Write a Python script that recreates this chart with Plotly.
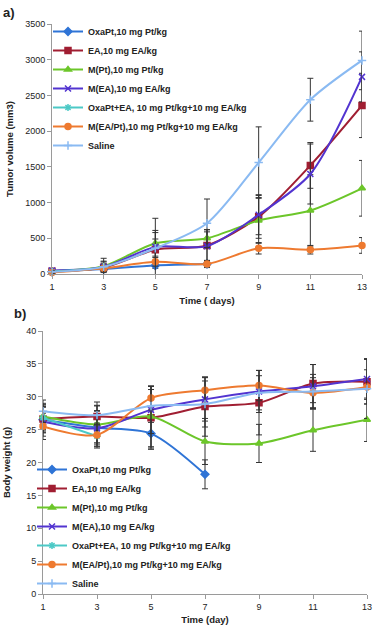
import plotly.graph_objects as go

# days
days = [1, 3, 5, 7, 9, 11, 13]

names = ["OxaPt,10 mg Pt/kg", "EA,10 mg EA/kg", "M(Pt),10 mg Pt/kg", "M(EA),10 mg EA/kg",
         "OxaPt+EA, 10 mg Pt/kg+10 mg EA/kg", "M(EA/Pt),10 mg Pt/kg+10 mg EA/kg", "Saline"]
colors = ['#2F74D6', '#A01E32', '#6CC62A', '#5234D0', '#4CC9C6', '#EE7A30', '#8ABAF2']
symbols = ['diamond', 'square', 'triangle-up', 'x-thin-open', 'asterisk-open', 'circle', 'cross-thin-open']

# a) tumor volume (mm3)
vol = [
    [30, 70, 120, 140],
    [40, 90, 340, 400, 800, 1520, 2360],
    [40, 110, 430, 500, 750, 890, 1200],
    [50, 100, 380, 390, 830, 1400, 2760],
    [35, 80],
    [20, 80, 170, 140, 360, 340, 400],
    [30, 100, 360, 710, 1560, 2440, 2990],
]
vol_err = [
    [15, 30, 40, 50],
    [20, 60, 150, 220, 300, 320, 450],
    [20, 60, 180, 120, 320, 500, 390],
    [20, 80, 200, 200, 280, 420, 350],
    [15, 40],
    [10, 40, 60, 40, 80, 60, 110],
    [20, 120, 420, 340, 500, 300, 410],
]

# b) body weight (g)
bw = [
    [26.5, 25.3, 24.4, 18.2],
    [26.6, 27.0, 26.8, 28.5, 29.1, 32.0, 32.3],
    [27.0, 25.8, 27.0, 23.2, 22.9, 24.9, 26.5],
    [26.2, 25.2, 28.0, 29.6, 30.8, 31.6, 32.7],
    [26.8, 24.0],
    [25.5, 24.2, 29.8, 31.0, 31.7, 30.6, 31.5],
    [27.8, 27.2, 28.6, 28.9, 30.6, 30.8, 31.2],
]
bw_err = [
    [2.0, 2.5, 2.2, 2.2],
    [2.0, 2.2, 4.8, 4.5, 4.9, 2.9, 3.4],
    [2.0, 2.8, 4.6, 3.5, 2.9, 3.2, 3.3],
    [2.2, 2.7, 3.6, 3.3, 3.2, 3.3, 3.1],
    [2.0, 1.8],
    [2.0, 1.8, 1.8, 2.0, 2.3, 2.3, 2.6],
    [1.7, 1.5, 2.5, 3.5, 2.6, 2.6, 4.5],
]

fig = go.Figure()

for i, name in enumerate(names):
    for vals, errs, xa, ya, lg in [(vol[i], vol_err[i], 'x', 'y', 'legend'),
                                   (bw[i], bw_err[i], 'x2', 'y2', 'legend2')]:
        fig.add_trace(go.Scatter(
            x=days[:len(vals)], y=vals, name=name, mode='lines+markers',
            xaxis=xa, yaxis=ya, legend=lg,
            line=dict(color=colors[i], width=2, shape='spline', smoothing=0.8),
            marker=dict(symbol=symbols[i], size=6, color=colors[i],
                        line=dict(color=colors[i], width=1.5)),
            error_y=dict(type='data', array=errs, color='#333333', thickness=1, width=3),
            cliponaxis=False,
        ))

axis_common = dict(showgrid=False, zeroline=False, showline=True, linecolor='#9a9a9a',
                   linewidth=1, ticks='outside', ticklen=4, tickcolor='#9a9a9a',
                   tickfont=dict(size=9, color='#222222', family='Liberation Sans'),
                   automargin=False)

fig.update_layout(
    width=373, height=625,
    margin=dict(l=0, r=0, t=0, b=0),
    paper_bgcolor='white', plot_bgcolor='white',
    font=dict(family='Liberation Sans', color='#222222'),
    xaxis=dict(domain=[52/373, 362/373], anchor='y', range=[1, 13], tickvals=days,
               title=dict(text='<b>Time ( days)</b>', font=dict(size=9.5), standoff=6), **axis_common),
    yaxis=dict(domain=[1-274/625, 1-24/625], anchor='x', range=[0, 3500], dtick=500,
               title=dict(text='<b>Tumor volume (mm3)</b>', font=dict(size=9.5), standoff=9), **axis_common),
    xaxis2=dict(domain=[43/373, 367/373], anchor='y2', range=[1, 13], tickvals=days,
                title=dict(text='<b>Time (day)</b>', font=dict(size=9.5), standoff=6), **axis_common),
    yaxis2=dict(domain=[1-594/625, 1-331/625], anchor='x2', range=[0, 40], dtick=5,
                title=dict(text='<b>Body weight (g)</b>', font=dict(size=9.5), standoff=13), **axis_common),
    legend=dict(x=48/373, y=1-17/625, xanchor='left', yanchor='top', bgcolor='rgba(0,0,0,0)',
                font=dict(size=9, weight='bold'), tracegroupgap=0, itemwidth=30),
    legend2=dict(x=32/373, y=1-455/625, xanchor='left', yanchor='top', bgcolor='rgba(0,0,0,0)',
                 font=dict(size=9, weight='bold'), tracegroupgap=0, itemwidth=30),
    annotations=[
        dict(text='<b>a)</b>', x=0.003, y=1-3/625, xref='paper', yref='paper', xanchor='left',
             yanchor='top', showarrow=False, font=dict(size=13)),
        dict(text='<b>b)</b>', x=12/373, y=1-304/625, xref='paper', yref='paper', xanchor='left',
             yanchor='top', showarrow=False, font=dict(size=13)),
    ],
)

fig.write_html("out.html", config={'displayModeBar': False},
               post_script="document.body.style.margin='0';")
